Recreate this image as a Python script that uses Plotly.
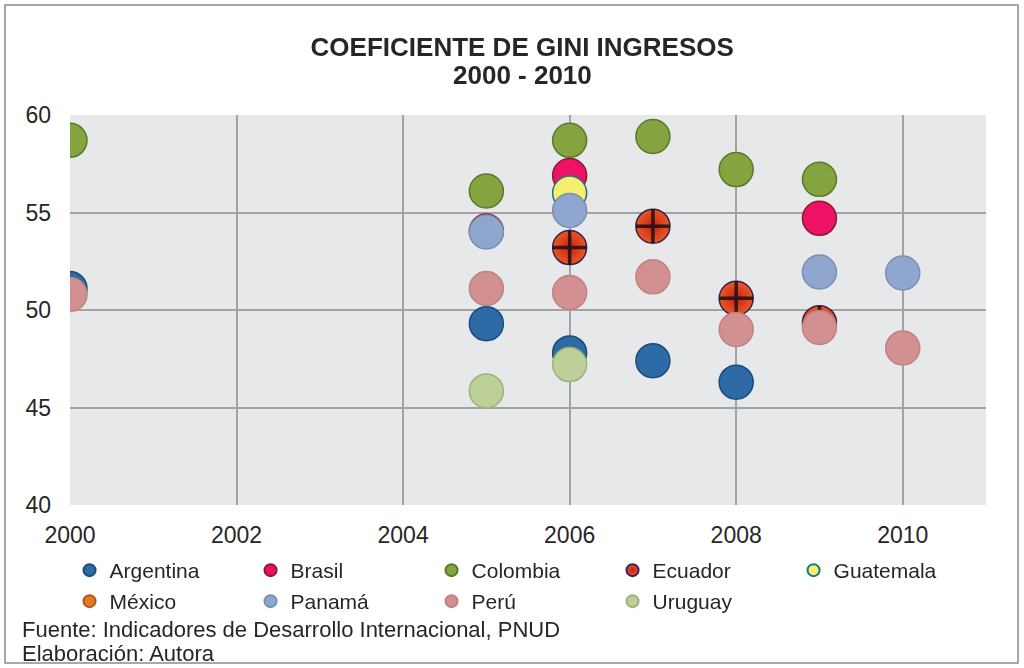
import plotly.graph_objects as go

years = [2000, 2005, 2006, 2007, 2008, 2009, 2010]
argentina = [51.1, 49.3, 47.8, 47.4, 46.3, None, None]
brasil = [None, 54.05, 56.9, None, None, 54.7, None]
colombia = [58.7, 56.1, 58.7, 58.9, 57.2, 56.7, None]
ecuador = [None, None, 53.2, 54.3, 50.6, 49.35, None]
guatemala = [None, None, 56.0, None, None, None, None]
mexico = [None, None, None, None, None, None, None]
panama = [None, 54.0, 55.1, None, None, 51.95, 51.9]
peru = [50.8, 51.1, 50.9, 51.7, 49.0, 49.1, 48.05]
uruguay = [None, 45.85, 47.2, None, None, None, None]

x_ticks = [2000, 2002, 2004, 2006, 2008, 2010]
y_ticks = [40, 45, 50, 55, 60]

# name, values, fill, edge, legend row
series = [
    ("Argentina", argentina, "#2e6aa5", "#1b4a7c", "legend"),
    ("Brasil", brasil, "#ee1266", "#8a1a2c", "legend"),
    ("Colombia", colombia, "#85a33f", "#5a7a2b", "legend"),
    ("Ecuador", ecuador, "#ea5a1e", "#3d1d55", "legend"),
    ("Guatemala", guatemala, "#f6ee6c", "#1a7586", "legend"),
    ("México", mexico, "#e07b2a", "#b05a18", "legend2"),
    ("Panamá", panama, "#8fa7ce", "#7c8fb2", "legend2"),
    ("Perú", peru, "#d39090", "#bf8282", "legend2"),
    ("Uruguay", uruguay, "#bcd097", "#9db27c", "legend2"),
]

fig = go.Figure()
for name, vals, fill, edge, leg in series:
    marker = dict(size=34, color=fill, line=dict(color=edge, width=1.5))
    if name == "Ecuador":
        marker["gradient"] = dict(type="radial", color="#c81e1e")
    fig.add_trace(go.Scatter(x=years, y=vals, mode="markers", name=name, legend=leg,
                             marker=marker, hoverinfo="skip"))
    if name == "Ecuador":
        fig.add_trace(go.Scatter(x=years, y=vals, mode="markers", showlegend=False,
                                 marker=dict(symbol="cross-thin", size=24, color="#1a1010",
                                             line=dict(color="#1a1010", width=3.5)),
                                 opacity=0.85, hoverinfo="skip"))

FONT = "Liberation Sans, Arial, sans-serif"
TXT = "#262626"
axis_font = dict(family=FONT, size=23, color=TXT)
legend_common = dict(orientation="h", xanchor="left", yanchor="top",
                     font=dict(family=FONT, size=21, color=TXT), itemwidth=30,
                     entrywidth=136, itemsizing="constant", bgcolor="rgba(0,0,0,0)")

fig.update_layout(
    width=1024, height=668,
    margin=dict(l=70, r=38, t=115, b=163),
    paper_bgcolor="white",
    plot_bgcolor="#e7e8ea",
    font=dict(family=FONT, color=TXT),
    title=dict(text="<b>COEFICIENTE DE GINI INGRESOS</b>",
               x=0.51, xanchor="center", y=1 - 47 / 668, yanchor="middle",
               font=dict(size=26, color=TXT)),
    xaxis=dict(range=[2000, 2011], tickvals=x_ticks, showgrid=True, gridcolor="#a3a3a3",
               gridwidth=2, showline=False, zeroline=False, tickfont=axis_font,
               ticklabelstandoff=14, ticks=""),
    yaxis=dict(range=[40, 60], tickvals=y_ticks, showgrid=True, gridcolor="#a3a3a3",
               gridwidth=2, showline=False, zeroline=False, tickfont=axis_font,
               ticklabelstandoff=18, ticks=""),
    legend=dict(x=-0.0005, y=(505 - 550) / 390, **legend_common),
    legend2=dict(x=-0.0005, y=(505 - 581) / 390, **legend_common),
    showlegend=True,
    shapes=[dict(type="rect", xref="paper", yref="paper",
                 x0=(5 - 70) / 916, x1=(1018 - 70) / 916,
                 y0=(505 - 663) / 390, y1=(505 - 5) / 390,
                 line=dict(color="#8c8c8c", width=1.5), layer="below")],
    annotations=[
        dict(text="<b>2000 - 2010</b>", xref="paper", yref="paper",
             x=(522 - 70) / 916, y=(505 - 75) / 390, xanchor="center", yanchor="middle",
             showarrow=False, font=dict(size=26, color=TXT)),
        dict(text="Fuente: Indicadores de Desarrollo Internacional, PNUD", xref="paper", yref="paper",
             x=(20 - 70) / 916, y=(505 - 629) / 390, xanchor="left", yanchor="middle",
             showarrow=False, font=dict(size=22, color=TXT)),
        dict(text="Elaboración: Autora", xref="paper", yref="paper",
             x=(20 - 70) / 916, y=(505 - 653) / 390, xanchor="left", yanchor="middle",
             showarrow=False, font=dict(size=22, color=TXT)),
    ],
)

fig.write_html("out.html", config={"displayModeBar": False},
               post_script="document.body.style.margin='0';")
